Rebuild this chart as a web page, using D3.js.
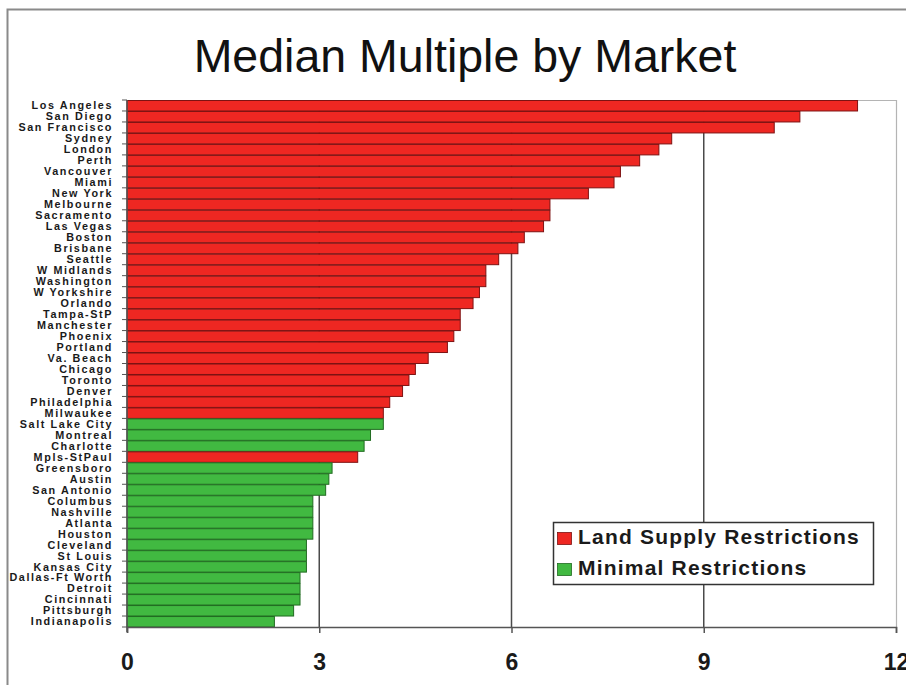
<!DOCTYPE html>
<html>
<head>
<meta charset="utf-8">
<script src="https://cdn.jsdelivr.net/npm/d3@7"></script>
<style>
  html, body { margin: 0; padding: 0; background: #fff; }
  svg { display: block; }
</style>
</head>
<body>
<svg id="chart" width="906" height="685"></svg>
<script>
const title = "Median Multiple by Market";
const categories = ["Los Angeles","San Diego","San Francisco","Sydney","London","Perth","Vancouver","Miami","New York","Melbourne","Sacramento","Las Vegas","Boston","Brisbane","Seattle","W Midlands","Washington","W Yorkshire","Orlando","Tampa-StP","Manchester","Phoenix","Portland","Va. Beach","Chicago","Toronto","Denver","Philadelphia","Milwaukee","Salt Lake City","Montreal","Charlotte","Mpls-StPaul","Greensboro","Austin","San Antonio","Columbus","Nashville","Atlanta","Houston","Cleveland","St Louis","Kansas City","Dallas-Ft Worth","Detroit","Cincinnati","Pittsburgh","Indianapolis"];
const values = [11.4,10.5,10.1,8.5,8.3,8.0,7.7,7.6,7.2,6.6,6.6,6.5,6.2,6.1,5.8,5.6,5.6,5.5,5.4,5.2,5.2,5.1,5.0,4.7,4.5,4.4,4.3,4.1,4.0,4.0,3.8,3.7,3.6,3.2,3.15,3.1,2.9,2.9,2.9,2.9,2.8,2.8,2.8,2.7,2.7,2.7,2.6,2.3];
// series membership per category: 0 = Land Supply Restrictions, 1 = Minimal Restrictions
const seriesIndex = [0,0,0,0,0,0,0,0,0,0,0,0,0,0,0,0,0,0,0,0,0,0,0,0,0,0,0,0,0,1,1,1,0,1,1,1,1,1,1,1,1,1,1,1,1,1,1,1];
const seriesNames = ["Land Supply Restrictions","Minimal Restrictions"];
const seriesFill = ["#ee2722","#41b941"];
const seriesStroke = ["#7d1212","#216b21"];
const xTicks = [0,3,6,9,12];

(function(){
const svg = d3.select("#chart");
const pL = 127, pR = 896, pT = 100, pB = 627;

// outer frame (left and top)
svg.append("path").attr("d","M7.5,685 L7.5,9.5 L906,9.5")
  .attr("fill","none").attr("stroke","#8a8a8a").attr("stroke-width",2);

const x = d3.scaleLinear().domain([0,12]).range([pL,pR]);
const y = d3.scaleBand().domain(categories).range([pT,pB]).padding(0);

// plot border (top/right)
svg.append("path").attr("d",`M${pL},${pT+0.5} L${pR+0.5},${pT+0.5} L${pR+0.5},${pB}`)
  .attr("fill","none").attr("stroke","#b4b4b4").attr("stroke-width",1.2);

// grid lines
svg.append("g").selectAll("line").data(xTicks.filter(t=>t>0 && t<12)).join("line")
  .attr("x1",d=>x(d)).attr("x2",d=>x(d)).attr("y1",pT).attr("y2",pB)
  .attr("stroke","#4a4a4a").attr("stroke-width",1.5);

// bars
svg.append("g").selectAll("rect").data(categories).join("rect")
  .attr("x",pL)
  .attr("y",d=>y(d)+0.5)
  .attr("width",(d,i)=>x(values[i])-pL)
  .attr("height",y.bandwidth()-0.5)
  .attr("fill",(d,i)=>seriesFill[seriesIndex[i]])
  .attr("stroke",(d,i)=>seriesStroke[seriesIndex[i]])
  .attr("stroke-width",1);

// y axis
const yAxis = svg.append("g").attr("transform",`translate(${pL},0)`);
yAxis.append("line").attr("x1",0).attr("x2",0).attr("y1",pT).attr("y2",pB+5)
  .attr("stroke","#555").attr("stroke-width",1.5);
yAxis.selectAll("line.tk").data(d3.range(categories.length+1)).join("line").attr("class","tk")
  .attr("x1",-5).attr("x2",0)
  .attr("y1",i=>pT + i*y.step()).attr("y2",i=>pT + i*y.step())
  .attr("stroke","#555").attr("stroke-width",1);
yAxis.selectAll("text").data(categories).join("text")
  .attr("x",-14).attr("y",d=>y(d)+y.bandwidth()/2)
  .attr("dy","0.36em")
  .attr("text-anchor","end")
  .attr("font-family","'Liberation Sans', Arial, sans-serif")
  .attr("font-weight","bold")
  .attr("font-size","10.8px")
  .attr("letter-spacing","1.6px")
  .attr("fill","#1a1a1a")
  .text(d=>d);

// x axis
const xAxis = d3.axisBottom(x).tickValues(xTicks).tickSize(6).tickPadding(21).tickFormat(d3.format("d"));
const gx = svg.append("g").attr("transform",`translate(0,${pB})`).call(xAxis);
gx.select(".domain").attr("stroke","#555").attr("stroke-width",1.5);
gx.selectAll(".tick line").attr("stroke","#555").attr("stroke-width",1.5);
gx.selectAll(".tick text")
  .attr("font-family","'Liberation Sans', Arial, sans-serif")
  .attr("font-weight","bold")
  .attr("font-size","23px")
  .attr("fill","#1a1a1a");

// title
svg.append("text").attr("x",465).attr("y",72).attr("text-anchor","middle")
  .attr("font-family","'Liberation Sans', Arial, sans-serif")
  .attr("font-size","46.5px").attr("fill","#111").text(title);

// legend
const lg = svg.append("g");
lg.append("rect").attr("x",553.5).attr("y",522.5).attr("width",320).attr("height",62)
  .attr("fill","#fff").attr("stroke","#333").attr("stroke-width",1.5);
seriesNames.forEach((name,i)=>{
  const yy = 532 + i*31;
  lg.append("rect").attr("x",557.5).attr("y",yy+0.5).attr("width",14).attr("height",12)
    .attr("fill",seriesFill[i]).attr("stroke",seriesStroke[i]).attr("stroke-width",0.8);
  lg.append("text").attr("x",578).attr("y",yy+12)
    .attr("font-family","'Liberation Sans', Arial, sans-serif")
    .attr("font-weight","bold").attr("font-size","21px")
    .attr("letter-spacing","1.2px")
    .attr("fill","#1a1a1a").text(name);
});
})();
</script>
</body>
</html>
